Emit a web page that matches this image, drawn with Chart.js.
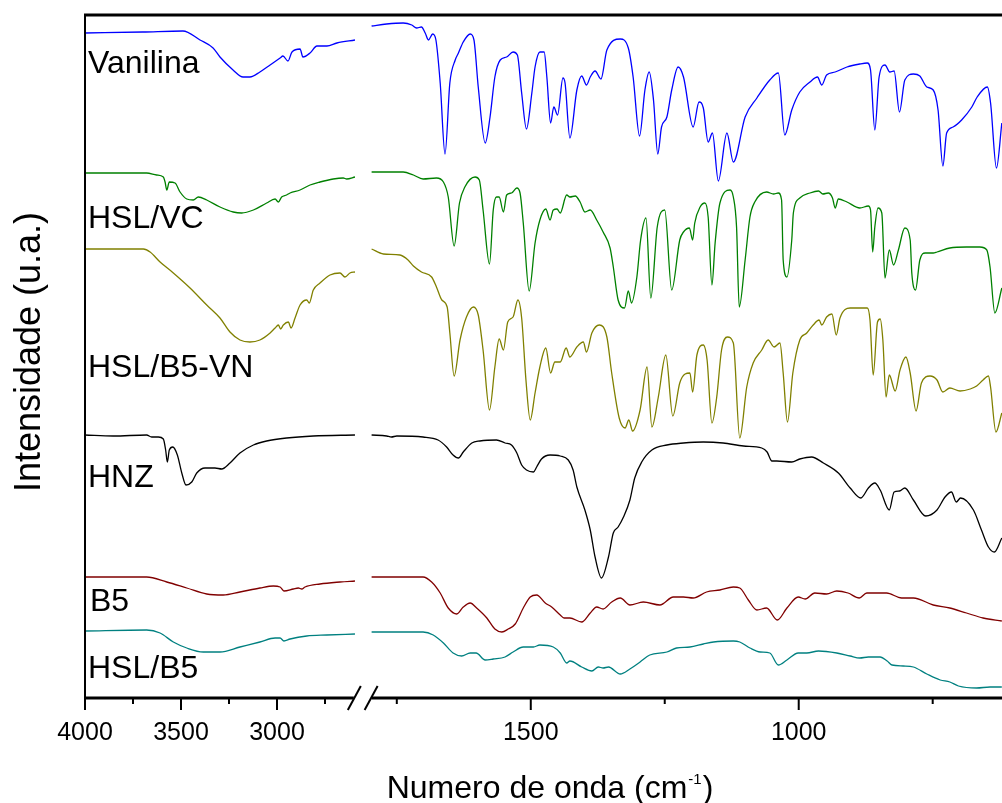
<!DOCTYPE html>
<html>
<head>
<meta charset="utf-8">
<script src="https://cdn.jsdelivr.net/npm/chart.js@4.4.1/dist/chart.umd.min.js"></script>
<style>
  html, body { margin: 0; padding: 0; background: #fff; overflow: hidden; }
  #c { display: block; }
</style>
</head>
<body>
<canvas id="c" width="1002" height="803"></canvas>
<script>
// ---------- DATA (wavenumber in cm-1, relative intensity) ----------
const seriesNames = ['Vanilina', 'HSL/VC', 'HSL/B5-VN', 'HNZ', 'B5', 'HSL/B5'];
const majorTicks = [4000, 3500, 3000, 1500, 1000];
const minorTicks = [3750, 3250, 2750, 1750, 1250, 750];

const vanilinaWn = [4000,3700,3490,3401,3333,3297,3229,3177,3141,3089,3036,3021,2984,2969,2943,2922,2880,2865,2828,2792,2740,2688,2594,
  1797,1769,1738,1722,1713,1704,1697,1691,1683,1677,1669,1660,1651,1641,1635,1626,1613,1606,1598,1585,1576,1567,1557,1545,1533,1525,1517,1508,1498,1492,1483,1475,1470,1463,1457,1450,1440,1436,1427,1414,1405,1396,1389,1380,1369,1358,1333,1318,1309,1297,1287,1279,1271,1263,1256,1246,1237,1225,1215,1197,1186,1178,1169,1161,1150,1134,1122,1100,1078,1054,1038,1026,1013,998,979,965,957,948,932,910,886,872,866,858,850,839,830,822,812,802,786,774,761,749,740,731,724,712,696,677,667,648,642,631,621];
const vanilinaI = [665,666,667,658,650,641,628,621,621,626,633,635,640,642,637,646,649,641,645,652,652,655,658,
  672,674,675,673,670,671,665,658,664,658,615,544,615,638,645,656,664,658,611,555,581,621,638,641,646,643,605,569,605,631,646,646,621,575,591,583,620,615,560,608,622,613,621,627,619,648,659,650,621,562,608,626,598,544,571,581,608,631,621,571,596,590,556,565,517,565,536,581,600,618,625,563,588,606,616,621,613,623,626,631,634,635,628,568,621,633,626,627,586,618,624,622,611,608,588,532,565,571,578,591,601,611,595,530,575];

const hslVcWn = [4000,3679,3627,3592,3583,3574,3561,3531,3505,3470,3436,3410,3366,3297,3228,3184,3123,3054,3010,2993,2976,2950,2932,2880,2828,2776,2707,2655,2637,2594,
  1797,1738,1719,1701,1676,1663,1654,1643,1633,1623,1604,1596,1589,1577,1570,1564,1559,1551,1545,1536,1526,1520,1514,1503,1492,1483,1472,1464,1458,1451,1445,1433,1427,1417,1408,1399,1389,1377,1365,1352,1346,1337,1325,1318,1312,1302,1295,1285,1276,1264,1250,1237,1222,1215,1204,1198,1194,1184,1175,1169,1162,1156,1147,1128,1122,1116,1111,1100,1091,1082,1060,1047,1038,1032,1029,1022,1013,1010,998,979,963,955,945,937,932,926,910,886,870,866,862,858,852,845,839,831,823,814,802,792,789,782,774,764,749,742,718,687,662,649,643,634,621];
const hslVcI = [525,525,523,521,516,508,516,515,506,499,498,501,498,491,486,485,488,495,499,496,501,503,505,508,513,516,519,520,519,521,
  526,526,523,519,520,516,501,452,495,511,521,518,488,434,488,501,501,486,503,505,510,505,475,407,455,478,489,478,488,489,485,503,501,502,496,486,488,478,466,450,431,398,390,407,395,421,458,480,400,471,488,408,458,466,470,458,475,491,495,481,413,455,495,508,501,471,391,438,481,496,506,504,505,498,438,421,458,485,500,505,507,504,505,500,490,499,496,490,492,488,446,471,490,485,420,448,433,448,470,458,425,408,438,445,445,446,450,451,451,448,431,385,410];

const hslB5VnWn = [4000,3696,3661,3609,3540,3453,3366,3297,3245,3193,3141,3089,3036,3010,2993,2981,2967,2941,2927,2906,2880,2845,2832,2811,2776,2724,2672,2646,2620,2594,
  1797,1775,1744,1729,1719,1704,1685,1676,1666,1656,1651,1643,1632,1620,1607,1598,1589,1577,1567,1559,1551,1543,1533,1524,1517,1509,1501,1492,1483,1472,1463,1455,1445,1434,1427,1414,1402,1396,1386,1372,1358,1349,1335,1324,1317,1310,1296,1283,1274,1262,1248,1235,1222,1212,1203,1198,1190,1178,1171,1162,1153,1144,1133,1122,1110,1097,1085,1069,1057,1046,1035,1029,1021,1011,998,985,973,962,957,948,938,930,923,904,886,872,867,861,853,848,843,837,831,820,811,800,792,781,771,755,742,731,718,699,680,668,656,646,642,632,621];
const hslB5VnI = [449,449,446,436,425,410,393,380,366,358,356,358,365,370,373,369,373,376,370,380,393,398,395,408,415,423,425,421,425,426,
  449,444,443,438,432,426,421,411,398,391,365,322,358,381,391,383,348,288,331,359,348,376,381,398,380,318,278,305,331,350,325,336,336,350,341,351,356,346,365,373,361,325,280,270,278,267,288,331,271,301,343,282,315,324,325,306,343,353,338,275,301,348,361,355,260,311,335,348,358,351,355,325,276,325,358,365,373,378,373,381,384,363,380,390,390,390,378,323,376,379,358,301,323,307,328,341,325,287,315,322,318,306,310,307,309,312,318,322,311,266,285];

const hnzWn = [4000,3853,3679,3653,3618,3592,3580,3571,3561,3543,3519,3496,3474,3444,3418,3375,3323,3288,3245,3193,3123,3054,2950,2811,2594,
  1797,1769,1760,1750,1701,1673,1657,1645,1635,1626,1610,1595,1564,1548,1536,1526,1517,1508,1495,1489,1480,1464,1445,1430,1421,1414,1399,1389,1380,1368,1355,1346,1337,1327,1315,1306,1293,1274,1246,1215,1178,1141,1103,1069,1059,1050,1041,1013,998,976,954,926,904,884,870,858,848,831,822,812,802,786,763,742,727,715,706,698,674,659,646,635,621];
const hnzI = [263,262,263,261,261,259,248,236,248,251,243,225,213,216,225,230,230,229,235,245,253,257,260,262,263,
  263,262,261,262,261,258,251,243,240,246,255,257,258,255,253,245,233,228,226,231,239,243,242,238,228,211,188,168,141,120,141,165,171,181,198,220,236,248,253,255,256,255,252,250,246,237,237,236,239,241,235,225,210,200,210,215,208,188,206,207,210,198,182,188,201,206,196,200,188,168,151,146,160];

const b5Wn = [4000,3679,3574,3470,3366,3280,3193,3089,3019,2984,2964,2915,2889,2871,2854,2776,2672,2594,
  1797,1701,1685,1669,1654,1638,1626,1613,1601,1582,1567,1554,1542,1529,1514,1501,1489,1473,1461,1445,1438,1427,1405,1389,1377,1365,1349,1333,1315,1290,1259,1234,1215,1197,1172,1147,1122,1110,1094,1078,1060,1040,1022,1001,988,970,948,929,908,887,873,836,808,786,749,718,687,656,621];
const b5I = [121,121,116,110,104,103,106,110,112,111,107,109,110,109,111,114,116,117,
  121,121,116,105,90,84,91,95,90,80,69,66,69,74,90,101,103,95,91,83,80,80,76,85,91,89,96,100,93,96,93,101,101,100,106,108,111,110,98,88,90,78,90,101,99,105,104,107,105,100,105,105,100,100,93,90,85,80,77];

const hslB5Wn = [4000,3679,3609,3540,3470,3384,3297,3193,3089,3010,2984,2964,2932,2845,2741,2594,
  1797,1701,1682,1663,1645,1629,1613,1602,1585,1570,1548,1533,1514,1495,1483,1458,1445,1433,1427,1405,1386,1374,1365,1355,1333,1315,1296,1278,1246,1228,1203,1178,1159,1122,1110,1091,1072,1054,1038,1022,1001,985,963,929,904,886,870,848,835,826,805,786,761,736,718,702,668,643,621];
const hslB5I = [67,68,65,56,50,46,46,51,56,60,60,57,59,62,63,64,
  66,66,63,55,45,42,45,45,38,39,41,46,51,51,53,51,45,35,37,31,27,31,30,31,24,29,36,43,46,50,51,54,56,57,56,50,46,45,33,38,45,45,47,45,42,40,41,41,37,33,32,31,24,18,16,12,10,11,11];

// ---------- broken wavenumber axis ----------
const LEFT_START = 4000, LEFT_SCALE = 0.19201;   // 4000 -> 2600 segment
const RIGHT_START = 1800, RIGHT_OFFSET = 285, RIGHT_SCALE = 0.5359; // 1800 -> 620 segment
const BREAK_HI = 2200;
function pos(w) {
  return w > BREAK_HI ? (LEFT_START - w) * LEFT_SCALE : RIGHT_OFFSET + (RIGHT_START - w) * RIGHT_SCALE;
}
function toPoints(wn, inten) {
  const pts = [];
  for (let i = 0; i < wn.length; i++) {
    if (i > 0 && wn[i - 1] > BREAK_HI && wn[i] <= BREAK_HI) {
      pts.push({ x: (pos(wn[i - 1]) + pos(wn[i])) / 2, y: null });
    }
    pts.push({ x: pos(wn[i]), y: inten[i] });
  }
  return pts;
}

const colors = ['#0000ff', '#008000', '#808000', '#000000', '#800000', '#008080'];
const allData = [
  [vanilinaWn, vanilinaI], [hslVcWn, hslVcI], [hslB5VnWn, hslB5VnI],
  [hnzWn, hnzI], [b5Wn, b5I], [hslB5Wn, hslB5I]
];
const labelPos = [[88, 73], [88, 228], [88, 377], [88, 487], [90, 611], [88, 678]];

const FONT = "'Liberation Sans', Arial, Helvetica, sans-serif";

const decor = {
  id: 'decor',
  afterDatasetsDraw(chart) {
    const { ctx, chartArea: a, scales: { x } } = chart;
    const px = w => x.getPixelForValue(pos(w));
    ctx.save();
    ctx.strokeStyle = '#000';
    ctx.fillStyle = '#000';
    const seg = (x1, y1, x2, y2, lw) => {
      ctx.lineWidth = lw; ctx.beginPath(); ctx.moveTo(x1, y1); ctx.lineTo(x2, y2); ctx.stroke();
    };
    // frame
    seg(a.left - 1, a.top, a.right, a.top, 3);
    seg(a.left, a.top, a.left, a.bottom + 1, 2);
    const leftEnd = px(2600), rightStart = px(1797);
    seg(a.left - 1, a.bottom, leftEnd, a.bottom, 3);
    seg(rightStart, a.bottom, a.right, a.bottom, 3);
    // break marks
    [leftEnd + 0.5, rightStart - 0.5].forEach(cx => seg(cx - 6.5, a.bottom + 12, cx + 6.5, a.bottom - 12, 2));
    // ticks
    majorTicks.forEach(w => seg(px(w), a.bottom, px(w), a.bottom + 12, 2));
    minorTicks.forEach(w => seg(px(w), a.bottom, px(w), a.bottom + 6, 2));
    // tick labels
    ctx.font = '25px ' + FONT;
    ctx.textAlign = 'center';
    ctx.textBaseline = 'alphabetic';
    majorTicks.forEach(w => ctx.fillText(String(w), px(w), a.bottom + 42));
    // x title with superscript
    const mainTxt = 'Numero de onda (cm', supTxt = '-1', endTxt = ')';
    ctx.font = '32px ' + FONT;
    const w1 = ctx.measureText(mainTxt).width, w3 = ctx.measureText(endTxt).width;
    ctx.font = '15px ' + FONT;
    const w2 = ctx.measureText(supTxt).width;
    let sx = 549 - (w1 + w2 + w3) / 2;
    ctx.textAlign = 'left';
    ctx.font = '32px ' + FONT;
    ctx.fillText(mainTxt, sx, 798);
    ctx.font = '15px ' + FONT;
    ctx.fillText(supTxt, sx + w1 + 1, 784);
    ctx.font = '32px ' + FONT;
    ctx.fillText(endTxt, sx + w1 + w2 + 2, 798);
    // y title
    ctx.save();
    ctx.translate(30, 352);
    ctx.rotate(-Math.PI / 2);
    ctx.textAlign = 'center';
    ctx.textBaseline = 'middle';
    ctx.font = '36px ' + FONT;
    ctx.fillText('Intensidade (u.a.)', 0, 0);
    ctx.restore();
    // series labels
    ctx.font = '32px ' + FONT;
    ctx.textAlign = 'left';
    ctx.textBaseline = 'alphabetic';
    seriesNames.forEach((n, i) => ctx.fillText(n, labelPos[i][0], labelPos[i][1]));
    ctx.restore();
  }
};

new Chart(document.getElementById('c'), {
  type: 'line',
  data: {
    datasets: allData.map((d, i) => ({
      label: seriesNames[i],
      data: toPoints(d[0], d[1]),
      borderColor: colors[i],
      borderWidth: 1.3,
      pointRadius: 0,
      fill: false,
      spanGaps: false,
      cubicInterpolationMode: 'monotone'
    }))
  },
  options: {
    responsive: false,
    animation: false,
    devicePixelRatio: 1,
    layout: { padding: { left: 85, top: 15, right: 0, bottom: 105 } },
    plugins: { legend: { display: false }, tooltip: { enabled: false } },
    scales: {
      x: { type: 'linear', min: 0, max: 917, display: false },
      y: { type: 'linear', min: 0, max: 683, display: false }
    }
  },
  plugins: [decor]
});
</script>
</body>
</html>
